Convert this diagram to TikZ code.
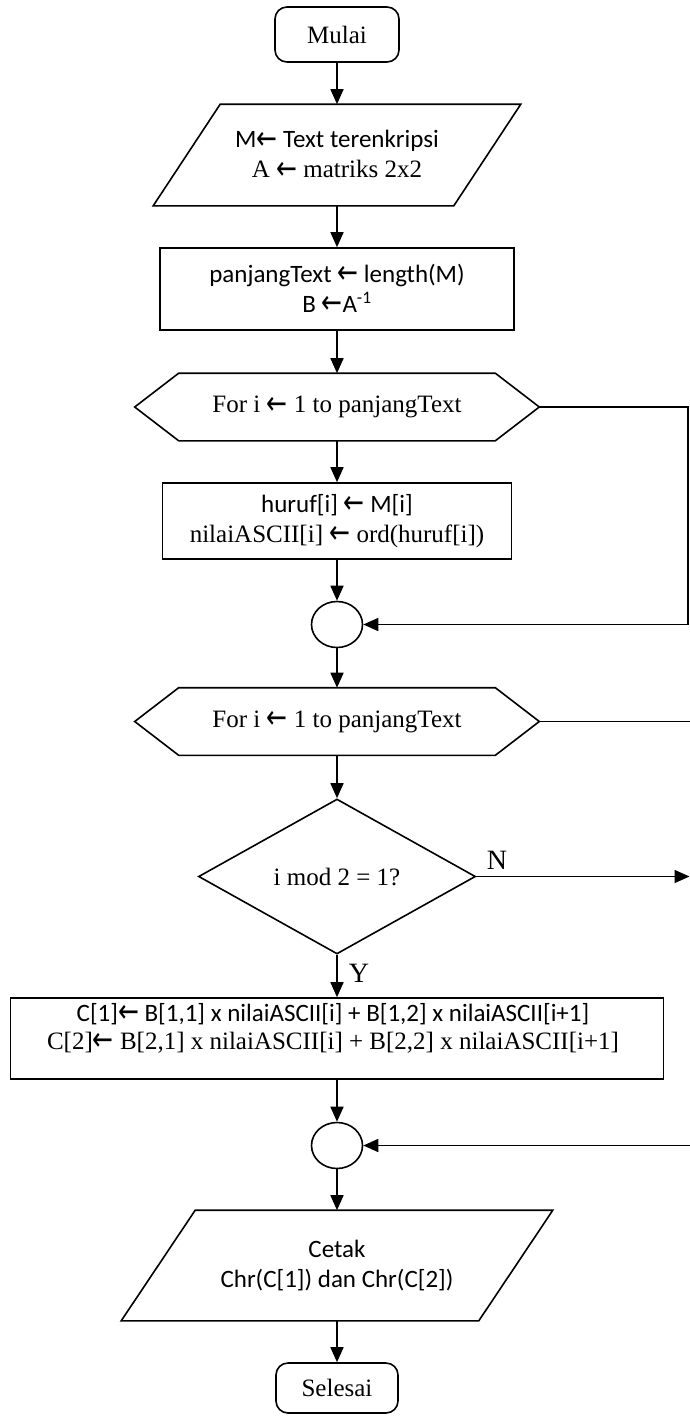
\documentclass[tikz,border=0pt]{standalone}
\usepackage{fontspec}
\setmainfont{Liberation Serif}
\newfontfamily\calfont{Carlito}
\newfontfamily\arrowfont{DejaVu Sans}
\usetikzlibrary{arrows.meta,shapes.geometric,calc}

% left arrow used in the assignments
\newcommand\larrowglyph{{\arrowfont\raisebox{-0.06em}{\scalebox{1}[1.3]{←}}}}
% outline of a preparation (hexagon) box around a named node
\newcommand\drawhex[2]{%
  \draw ($(#1.west)$) -- ($(#1.north west)+(#2,0)$) -- ($(#1.north east)+(-#2,0)$)
    -- (#1.east) -- ($(#1.south east)+(-#2,0)$) -- ($(#1.south west)+(#2,0)$) -- cycle;}
% outline of an input/output (parallelogram) box around a named node
\newcommand\drawpar[2]{%
  \draw ($(#1.north west)+(#2,0)$) -- ($(#1.north east)+(#2,0)$)
    -- ($(#1.south east)+(-#2,0)$) -- ($(#1.south west)+(-#2,0)$) -- cycle;}

\begin{document}
\begin{tikzpicture}[x=1pt,y=-1pt,
  line width=1.6pt,
  >={Triangle[length=15pt,width=13pt]},
  every node/.style={inner sep=0pt, font=\fontsize{25}{30}\selectfont},
  term/.style={draw, rounded corners=12pt, minimum width=124pt, minimum height=55pt},
  procbox/.style={draw, align=center},
  hexbox/.style={minimum width=403pt, minimum height=66pt},
  iobox/.style={align=center},
  decbox/.style={draw, diamond, aspect=2, minimum width=277pt, minimum height=155pt},
  joinpt/.style={draw, ellipse, minimum width=51pt, minimum height=46pt},
  lbl/.style={font=\fontsize{28}{32}\selectfont}
]
\useasboundingbox (0,0) rectangle (689,1416);
\fill[white] (0,0) rectangle (689,1416);

% ---- flow nodes ----
\node[term] (start) at (337,34.5) {Mulai};

\node[iobox, minimum width=299pt, minimum height=100pt] (in1) at (337,155)
  {{\calfont M\larrowglyph{} Text terenkripsi}\\A \larrowglyph{} matriks 2x2};
\drawpar{in1}{33.5}

\node[procbox, minimum width=354pt, minimum height=82pt] (proc1) at (337,289)
  {\calfont panjangText \larrowglyph{} length(M)\\\calfont B \larrowglyph{}A\textsuperscript{-1}};

\node[hexbox] (for1) at (337,407) {For i \larrowglyph{} 1 to panjangText};
\drawhex{for1}{44}

\node[procbox, minimum width=349pt, minimum height=76pt] (proc2) at (337,521)
  {{\calfont huruf[i] \larrowglyph{} M[i]}\\nilaiASCII[i] \larrowglyph{} ord(huruf[i])};

\node[joinpt] (join1) at (337,624.5) {};

\node[hexbox] (for2) at (337,721.5) {For i \larrowglyph{} 1 to panjangText};
\drawhex{for2}{44}

\node[decbox] (dec) at (337,876.5) {i mod 2 = 1?};

\node[draw, minimum width=653pt, minimum height=81pt] (proc3) at (337,1038.5) {};
\node[align=center, font=\fontsize{25}{28}\selectfont] (proc3t) at (333,1028)
  {{\calfont C[1]\larrowglyph{} B[1,1] x nilaiASCII[i] + B[1,2] x nilaiASCII[i+1]}\\
   C[2]\larrowglyph{} B[2,1] x nilaiASCII[i] + B[2,2] x nilaiASCII[i+1]};

\node[joinpt] (join2) at (337,1145.5) {};

\node[iobox, minimum width=356pt, minimum height=109pt] (out1) at (337,1265.5)
  {\calfont Cetak\\\calfont Chr(C[1]) dan Chr(C[2])};
\drawpar{out1}{37}

\node[term, minimum width=122pt, minimum height=50pt] (stop) at (337,1388) {Selesai};

% ---- branch labels ----
\node[lbl] (nlab) at (497,860) {N};
\node[lbl] (ylab) at (359,973) {Y};

% ---- connectors ----
\draw[->] (start) -- (in1);
\draw[->] (in1) -- (proc1);
\draw[->] (proc1) -- (for1);
\draw[->] (for1) -- (proc2);
\draw[->] (proc2) -- (join1);
\draw[->] (join1) -- (for2);
\draw[->] (for2) -- (dec);
\draw[->] (dec) -- (proc3);
\draw[->] (proc3) -- (join2);
\draw[->] (join2) -- (out1);
\draw[->] (out1) -- (stop);

% loop exits along the right-hand side
\coordinate (rail) at (688,0);
\coordinate (rim) at (689.5,0);
\draw[->] (for1.east) -- (for1.east -| rail) |- (join1.east);
\draw (for2.east) -- (for2.east -| rim);
\draw[->] (dec.east) -- (dec.east -| rim);
\draw[->] (join2.east -| rim) -- (join2.east);
\end{tikzpicture}
\end{document}
